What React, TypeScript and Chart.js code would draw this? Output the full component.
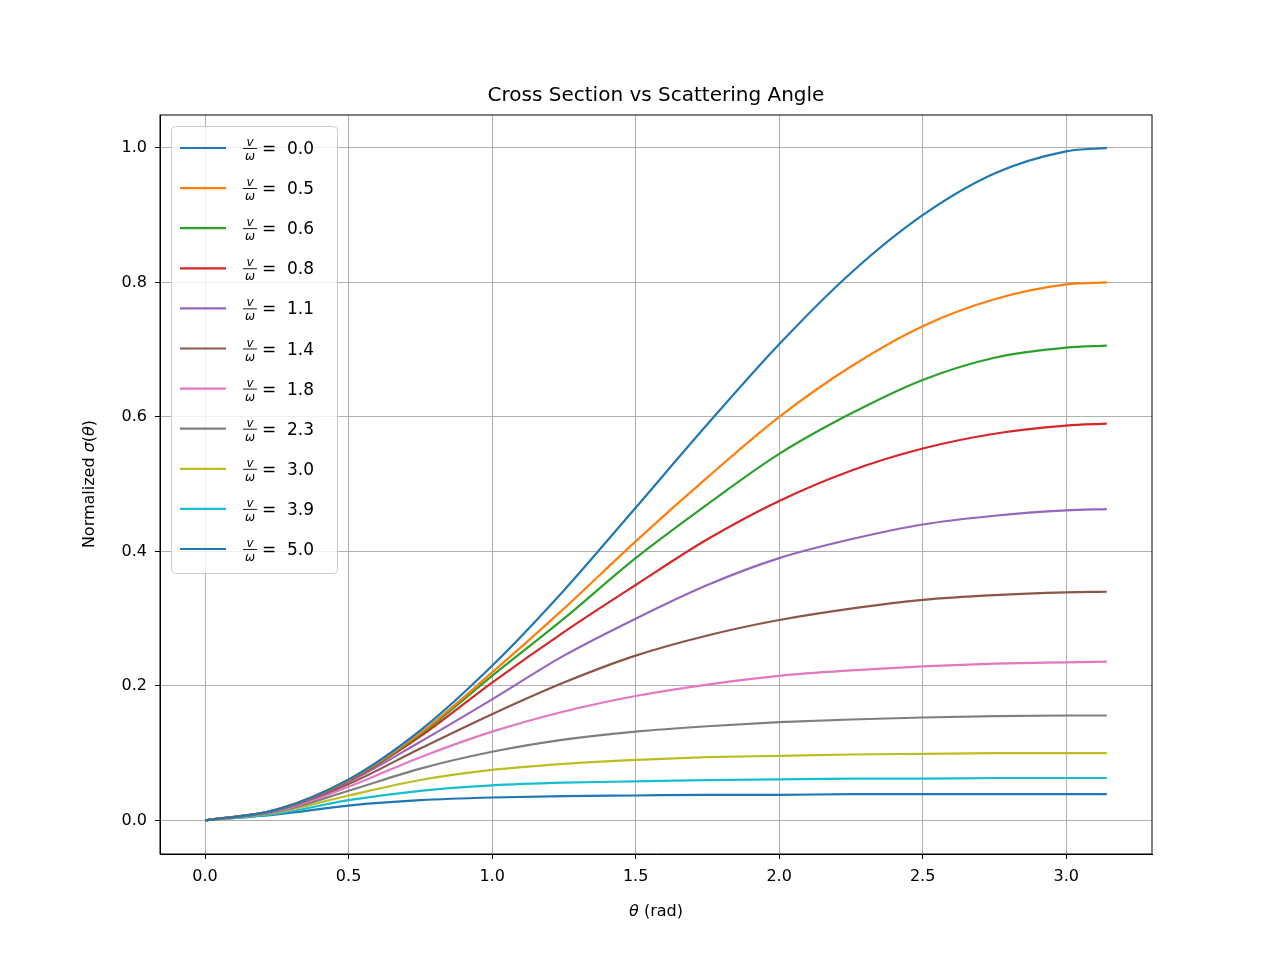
import Chart from 'chart.js/auto';
import React, { useEffect, useRef } from 'react';

const thetas = [0, 0.25, 0.5, 0.75, 1.0, 1.25, 1.5, 1.75, 2.0, 2.25, 2.5, 2.75, 3.0, 3.1416];
const ratioLabels = ['0.0', '0.5', '0.6', '0.8', '1.1', '1.4', '1.8', '2.3', '3.0', '3.9', '5.0'];
const colors = ['#1f77b4', '#ff7f0e', '#2ca02c', '#d62728', '#9467bd', '#8c564b', '#e377c2', '#7f7f7f', '#bcbd22', '#17becf', '#1f77b4'];

const s00 = [0, 0.016, 0.061, 0.134, 0.23, 0.342, 0.465, 0.589, 0.708, 0.814, 0.9, 0.962, 0.995, 1.0];
const s05 = [0, 0.016, 0.06, 0.13, 0.22, 0.315, 0.415, 0.51, 0.6, 0.675, 0.735, 0.775, 0.797, 0.8];
const s06 = [0, 0.016, 0.06, 0.128, 0.215, 0.3, 0.39, 0.47, 0.545, 0.605, 0.655, 0.688, 0.703, 0.706];
const s08 = [0, 0.016, 0.059, 0.125, 0.205, 0.28, 0.35, 0.418, 0.475, 0.52, 0.553, 0.575, 0.587, 0.59];
const s11 = [0, 0.015, 0.057, 0.117, 0.18, 0.245, 0.3, 0.35, 0.39, 0.418, 0.44, 0.453, 0.461, 0.463];
const s14 = [0, 0.015, 0.054, 0.107, 0.158, 0.205, 0.245, 0.275, 0.298, 0.315, 0.328, 0.335, 0.339, 0.34];
const s18 = [0, 0.014, 0.05, 0.094, 0.132, 0.162, 0.185, 0.202, 0.215, 0.223, 0.229, 0.233, 0.235, 0.236];
const s23 = [0, 0.013, 0.044, 0.077, 0.102, 0.12, 0.132, 0.14, 0.146, 0.15, 0.153, 0.155, 0.156, 0.156];
const s30 = [0, 0.012, 0.037, 0.06, 0.075, 0.084, 0.09, 0.094, 0.096, 0.098, 0.099, 0.1, 0.1, 0.1];
const s39 = [0, 0.01, 0.03, 0.044, 0.052, 0.056, 0.058, 0.06, 0.061, 0.062, 0.062, 0.063, 0.063, 0.063];
const s50 = [0, 0.009, 0.022, 0.03, 0.034, 0.036, 0.037, 0.038, 0.038, 0.039, 0.039, 0.039, 0.039, 0.039];
const seriesValues = [s00, s05, s06, s08, s11, s14, s18, s23, s30, s39, s50];

const FONT = '"DejaVu Sans", sans-serif';

const overlay = {
    id: 'overlay',
    afterDraw(chart: any) {
        const ctx = chart.ctx;
        const area = chart.chartArea;
        ctx.save();
        ctx.fillStyle = '#000';
        // title
        ctx.font = `20px ${FONT}`;
        ctx.textAlign = 'center';
        ctx.textBaseline = 'alphabetic';
        ctx.fillText('Cross Section vs Scattering Angle', (area.left + area.right) / 2, 101);
        // x label
        const xl1 = 'θ';
        const xl2 = ' (rad)';
        ctx.font = `italic 16px ${FONT}`;
        const w1 = ctx.measureText(xl1).width;
        ctx.font = `16px ${FONT}`;
        const w2 = ctx.measureText(xl2).width;
        const xs = 656 - (w1 + w2) / 2;
        ctx.textAlign = 'left';
        ctx.font = `italic 16px ${FONT}`;
        ctx.fillText(xl1, xs, 916);
        ctx.font = `16px ${FONT}`;
        ctx.fillText(xl2, xs + w1, 916);
        // y label
        ctx.save();
        ctx.translate(94, 484);
        ctx.rotate(-Math.PI / 2);
        const parts: [string, boolean][] = [['Normalized ', false], ['σ', true], ['(', false], ['θ', true], [')', false]];
        let total = 0;
        parts.forEach(([t, it]) => { ctx.font = `${it ? 'italic ' : ''}16px ${FONT}`; total += ctx.measureText(t).width; });
        let px = -total / 2;
        parts.forEach(([t, it]) => {
            ctx.font = `${it ? 'italic ' : ''}16px ${FONT}`;
            ctx.fillText(t, px, 0);
            px += ctx.measureText(t).width;
        });
        ctx.restore();
        // legend
        const lx = 171, ly = 126, lw = 166, lh = 447;
        ctx.fillStyle = 'rgba(255,255,255,0.8)';
        ctx.strokeStyle = '#cccccc';
        ctx.lineWidth = 1;
        ctx.beginPath();
        ctx.roundRect(lx + 0.5, ly + 0.5, lw, lh, 4);
        ctx.fill();
        ctx.stroke();
        ratioLabels.forEach((lab, i) => {
            const y = 148 + i * 40.1;
            ctx.strokeStyle = colors[i];
            ctx.lineWidth = 2.2;
            ctx.beginPath();
            ctx.moveTo(180, y);
            ctx.lineTo(226, y);
            ctx.stroke();
            ctx.fillStyle = '#000';
            ctx.font = `italic 12px ${FONT}`;
            ctx.textAlign = 'center';
            ctx.fillText('v', 250, y - 2);
            ctx.fillText('ω', 250, y + 12);
            ctx.fillRect(243, y, 14, 0.9);
            ctx.font = `17px ${FONT}`;
            ctx.textAlign = 'left';
            ctx.fillText('=  ' + lab, 262, y + 6);
        });
        ctx.restore();
    },
};

const App: React.FC = () => {
    const canvasRef = useRef<HTMLCanvasElement>(null);

    useEffect(() => {
        if (!canvasRef.current) return;
        const ctx = canvasRef.current.getContext('2d');
        if (!ctx) return;
        const myChart = new Chart(ctx, {
            type: 'line',
            data: {
                datasets: seriesValues.map((vals, i) => ({
                    label: ratioLabels[i],
                    data: thetas.map((t, j) => ({ x: t, y: vals[j] })),
                    borderColor: colors[i],
                    borderWidth: 2.2,
                    pointRadius: 0,
                    fill: false,
                    cubicInterpolationMode: 'monotone' as const,
                })),
            },
            options: {
                responsive: false,
                animation: false,
                layout: { padding: { top: 115, right: 128, left: 0, bottom: 0 } },
                plugins: { legend: { display: false }, title: { display: false }, tooltip: { enabled: false } },
                scales: {
                    x: {
                        type: 'linear',
                        min: -0.157,
                        max: 3.299,
                        afterFit: (s: any) => { s.height = 106; },
                        afterBuildTicks: (s: any) => { s.ticks = [0, 0.5, 1, 1.5, 2, 2.5, 3].map((v) => ({ value: v })); },
                        ticks: { color: '#000', font: { family: FONT, size: 16 }, padding: 8, callback: (v: any) => Number(v).toFixed(1) },
                        grid: { color: '#b0b0b0', tickColor: '#000', tickLength: 5 },
                        border: { color: '#000' },
                    },
                    y: {
                        min: -0.05,
                        max: 1.049,
                        afterFit: (s: any) => { s.width = 160; },
                        afterBuildTicks: (s: any) => { s.ticks = [0, 0.2, 0.4, 0.6, 0.8, 1.0].map((v) => ({ value: v })); },
                        ticks: { color: '#000', font: { family: FONT, size: 16 }, padding: 8, callback: (v: any) => Number(v).toFixed(1) },
                        grid: { color: '#b0b0b0', tickColor: '#000', tickLength: 5 },
                        border: { color: '#000' },
                    },
                },
            },
            plugins: [overlay, {
                id: 'frame',
                afterDatasetsDraw(chart: any) {
                    const c = chart.ctx, a = chart.chartArea;
                    c.save();
                    c.strokeStyle = '#000';
                    c.lineWidth = 1;
                    c.strokeRect(a.left, a.top, a.right - a.left, a.bottom - a.top);
                    c.restore();
                },
            }],
        });
        return () => {
            myChart.destroy();
        };
    }, []);

    return (
        <div style={{ position: 'fixed', left: 0, top: 0, width: 1280, height: 960, background: '#fff' }}>
            <canvas ref={canvasRef} width={1280} height={960} style={{ width: 1280, height: 960 }} />
        </div>
    );
};

export default App;
